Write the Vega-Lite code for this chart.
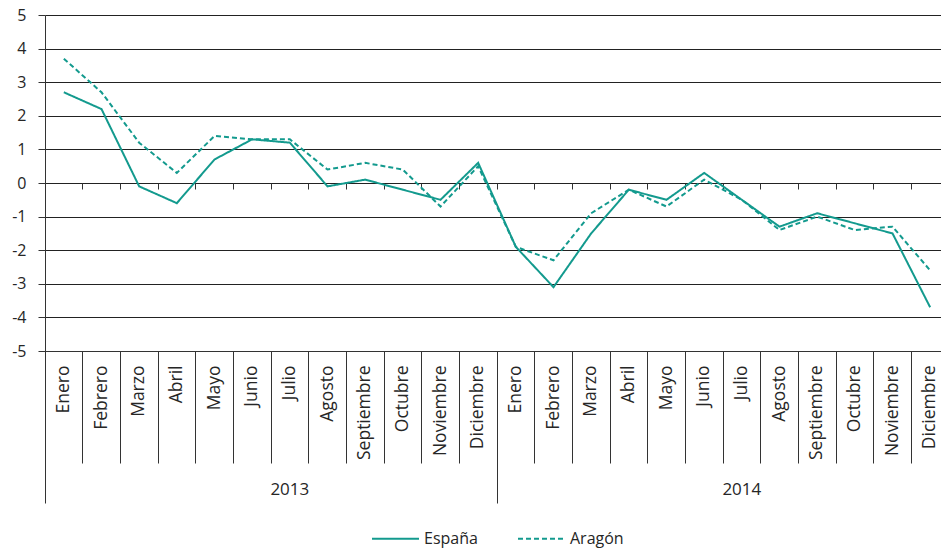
{
  "$schema": "https://vega.github.io/schema/vega-lite/v6.json",
  "width": 904,
  "height": 336,
  "autosize": "none",
  "padding": {"left": 45, "top": 15, "right": 0, "bottom": 198},
  "config": {"font": "Open Sans", "view": {"stroke": null}},
  "data": {"values": [
    {"key": "Enero 2013", "serie": "España", "valor": 2.7},
    {"key": "Febrero 2013", "serie": "España", "valor": 2.2},
    {"key": "Marzo 2013", "serie": "España", "valor": -0.1},
    {"key": "Abril 2013", "serie": "España", "valor": -0.6},
    {"key": "Mayo 2013", "serie": "España", "valor": 0.7},
    {"key": "Junio 2013", "serie": "España", "valor": 1.3},
    {"key": "Julio 2013", "serie": "España", "valor": 1.2},
    {"key": "Agosto 2013", "serie": "España", "valor": -0.1},
    {"key": "Septiembre 2013", "serie": "España", "valor": 0.1},
    {"key": "Octubre 2013", "serie": "España", "valor": -0.2},
    {"key": "Noviembre 2013", "serie": "España", "valor": -0.5},
    {"key": "Diciembre 2013", "serie": "España", "valor": 0.6},
    {"key": "Enero 2014", "serie": "España", "valor": -1.9},
    {"key": "Febrero 2014", "serie": "España", "valor": -3.1},
    {"key": "Marzo 2014", "serie": "España", "valor": -1.5},
    {"key": "Abril 2014", "serie": "España", "valor": -0.2},
    {"key": "Mayo 2014", "serie": "España", "valor": -0.5},
    {"key": "Junio 2014", "serie": "España", "valor": 0.3},
    {"key": "Julio 2014", "serie": "España", "valor": -0.5},
    {"key": "Agosto 2014", "serie": "España", "valor": -1.3},
    {"key": "Septiembre 2014", "serie": "España", "valor": -0.9},
    {"key": "Octubre 2014", "serie": "España", "valor": -1.2},
    {"key": "Noviembre 2014", "serie": "España", "valor": -1.5},
    {"key": "Diciembre 2014", "serie": "España", "valor": -3.7},
    {"key": "Enero 2013", "serie": "Aragón", "valor": 3.7},
    {"key": "Febrero 2013", "serie": "Aragón", "valor": 2.7},
    {"key": "Marzo 2013", "serie": "Aragón", "valor": 1.2},
    {"key": "Abril 2013", "serie": "Aragón", "valor": 0.3},
    {"key": "Mayo 2013", "serie": "Aragón", "valor": 1.4},
    {"key": "Junio 2013", "serie": "Aragón", "valor": 1.3},
    {"key": "Julio 2013", "serie": "Aragón", "valor": 1.3},
    {"key": "Agosto 2013", "serie": "Aragón", "valor": 0.4},
    {"key": "Septiembre 2013", "serie": "Aragón", "valor": 0.6},
    {"key": "Octubre 2013", "serie": "Aragón", "valor": 0.4},
    {"key": "Noviembre 2013", "serie": "Aragón", "valor": -0.7},
    {"key": "Diciembre 2013", "serie": "Aragón", "valor": 0.5},
    {"key": "Enero 2014", "serie": "Aragón", "valor": -1.9},
    {"key": "Febrero 2014", "serie": "Aragón", "valor": -2.3},
    {"key": "Marzo 2014", "serie": "Aragón", "valor": -0.9},
    {"key": "Abril 2014", "serie": "Aragón", "valor": -0.2},
    {"key": "Mayo 2014", "serie": "Aragón", "valor": -0.7},
    {"key": "Junio 2014", "serie": "Aragón", "valor": 0.1},
    {"key": "Julio 2014", "serie": "Aragón", "valor": -0.5},
    {"key": "Agosto 2014", "serie": "Aragón", "valor": -1.4},
    {"key": "Septiembre 2014", "serie": "Aragón", "valor": -1.0},
    {"key": "Octubre 2014", "serie": "Aragón", "valor": -1.4},
    {"key": "Noviembre 2014", "serie": "Aragón", "valor": -1.3},
    {"key": "Diciembre 2014", "serie": "Aragón", "valor": -2.6}
  ]},
  "layer": [
    {
      "mark": {"type": "line", "strokeWidth": 2},
      "encoding": {
        "x": {
          "field": "key", "type": "nominal", "sort": null, "bandPosition": 0.5,
          "scale": {"type": "band", "paddingInner": 0, "paddingOuter": 0},
          "axis": {
            "orient": "bottom", "title": null, "labelAngle": -90,
            "labelExpr": "split(datum.value, ' ')[0]",
            "bandPosition": 0, "tickSize": 112, "tickColor": "#333333", "tickWidth": 1,
            "domain": true, "domainColor": "#333333",
            "labelPadding": -98, "labelFontSize": 17.5, "labelColor": "#262626",
            "labelAlign": "right", "labelBaseline": "middle", "grid": false
          }
        },
        "y": {
          "field": "valor", "type": "quantitative",
          "scale": {"domain": [-5, 5], "nice": false, "zero": false},
          "axis": {
            "title": null, "values": [-5, -4, -3, -2, -1, 0, 1, 2, 3, 4, 5],
            "labelExpr": "'' + datum.value",
            "grid": true, "gridColor": "#222222", "gridOpacity": 1, "gridWidth": 1.2,
            "tickSize": 7, "tickColor": "#333333", "domainColor": "#333333",
            "labelPadding": 12, "labelFontSize": 16, "labelColor": "#262626"
          }
        },
        "color": {
          "field": "serie", "type": "nominal",
          "scale": {"domain": ["España", "Aragón"], "range": ["#139A8E", "#139A8E"]},
          "legend": {
            "title": null, "orient": "none", "legendX": 326, "legendY": 499,
            "direction": "horizontal", "symbolType": "stroke", "symbolSize": 2209,
            "symbolStrokeWidth": 2, "labelFontSize": 16, "labelColor": "#262626",
            "labelOffset": 4, "columnPadding": 36
          }
        },
        "strokeDash": {
          "field": "serie", "type": "nominal",
          "scale": {"domain": ["España", "Aragón"], "range": [[1, 0], [5, 3]]},
          "legend": {
            "title": null, "orient": "none", "legendX": 326, "legendY": 499,
            "direction": "horizontal", "symbolType": "stroke", "symbolSize": 2209,
            "symbolStrokeWidth": 2, "labelFontSize": 16, "labelColor": "#262626",
            "labelOffset": 4, "columnPadding": 36
          }
        }
      }
    },
    {
      "mark": {"type": "point", "opacity": 0},
      "encoding": {
        "x": {
          "field": "key", "type": "nominal", "sort": null,
          "scale": {"type": "band", "paddingInner": 0, "paddingOuter": 0},
          "axis": {
            "orient": "bottom", "title": null, "offset": -168, "labels": false,
            "domain": false, "bandPosition": 0, "tickSize": 6, "tickColor": "#333333",
            "grid": false
          }
        }
      }
    },
    {
      "mark": {"type": "point", "opacity": 0},
      "encoding": {
        "x": {
          "field": "key", "type": "nominal", "sort": null,
          "scale": {"type": "band", "paddingInner": 0, "paddingOuter": 0},
          "axis": {
            "orient": "bottom", "title": null, "labels": false, "domain": false,
            "values": ["Enero 2013", "Enero 2014"], "bandPosition": 0,
            "tickSize": 152, "tickColor": "#333333", "grid": false
          }
        }
      }
    },
    {
      "mark": {"type": "point", "opacity": 0},
      "encoding": {
        "x": {
          "field": "key", "type": "nominal", "sort": null,
          "scale": {"type": "band", "paddingInner": 0, "paddingOuter": 0},
          "axis": {
            "orient": "bottom", "title": null, "domain": false, "ticks": false,
            "values": ["Julio 2013", "Julio 2014"], "bandPosition": 0,
            "labelExpr": "split(datum.value, ' ')[1]", "labelAngle": 0,
            "labelAlign": "center", "labelBaseline": "top",
            "labelPadding": 130, "labelFontSize": 17, "labelColor": "#262626", "grid": false
          }
        }
      }
    }
  ],
  "resolve": {"axis": {"x": "independent"}}
}
